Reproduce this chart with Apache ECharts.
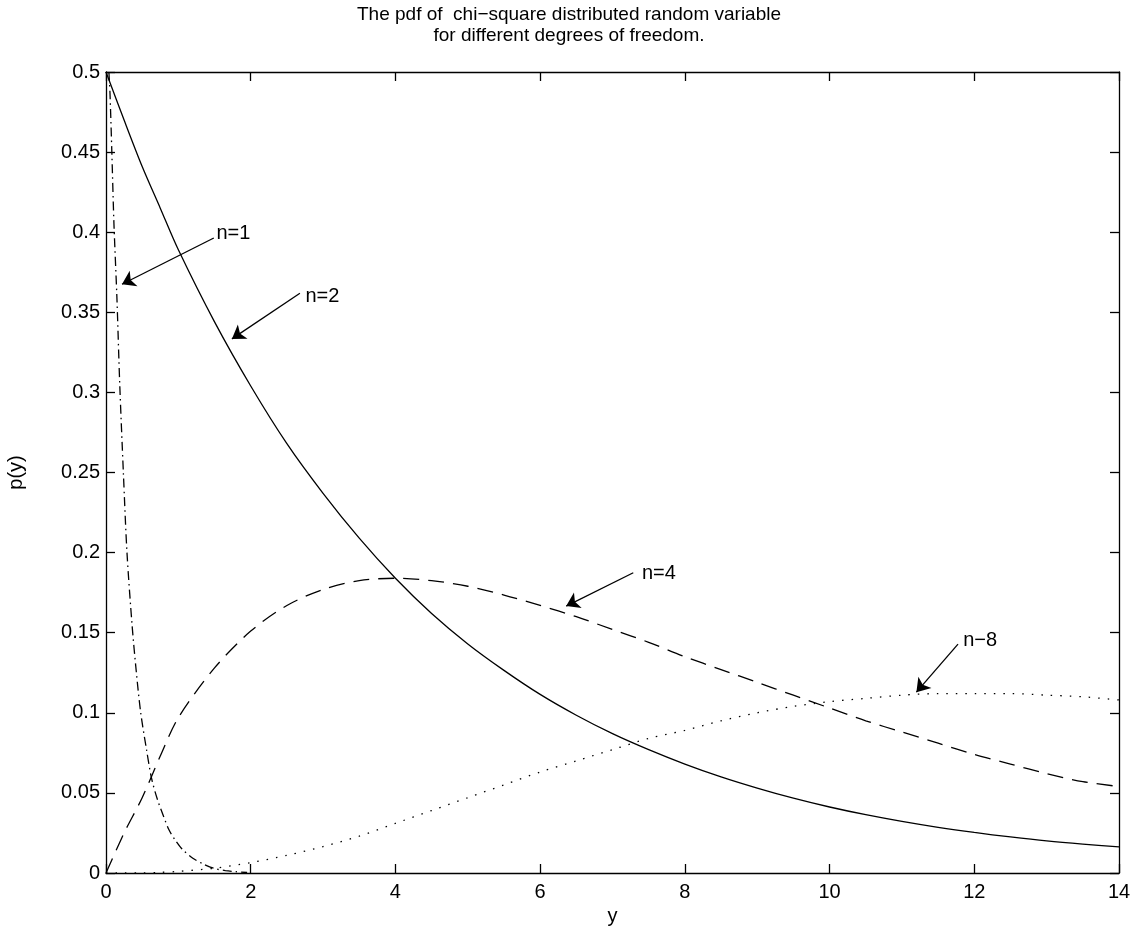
<!DOCTYPE html>
<html>
<head>
<meta charset="utf-8">
<script src="https://cdn.jsdelivr.net/npm/echarts@6/dist/echarts.min.js"></script>
<style>
  html, body { margin: 0; padding: 0; background: #fff; }
  #chart { width: 1138px; height: 936px; }
</style>
</head>
<body>
<div id="chart"></div>
<script>
// values (p(y) against y)
const xN1 = [0.04, 0.055, 0.08, 0.11, 0.15, 0.19, 0.24, 0.29, 0.36, 0.42, 0.48, 0.56, 0.63, 0.71,
  0.79, 0.87, 0.95, 1.05, 1.2, 1.35, 1.5, 1.65, 1.8, 1.95];
const yN1 = [0.5, 0.487, 0.451, 0.405, 0.36, 0.305, 0.25, 0.2, 0.155, 0.125, 0.1, 0.077, 0.059, 0.046,
  0.036, 0.027, 0.021, 0.015, 0.0092, 0.0055, 0.0028, 0.0015, 0.0008, 0.0003];

const xGrid = [0, 0.25, 0.5, 0.75, 1, 1.5, 2, 2.5, 3, 3.5, 4, 4.5, 5, 5.5, 6, 6.5, 7, 7.5, 8, 8.5, 9,
  9.5, 10, 10.5, 11, 11.5, 12, 12.5, 13, 13.5, 14];
const yN2 = [0.5, 0.47, 0.441, 0.415, 0.389, 0.344, 0.304, 0.268, 0.237, 0.209, 0.184, 0.162, 0.143,
  0.1265, 0.1115, 0.0985, 0.087, 0.077, 0.068, 0.06, 0.053, 0.0467, 0.0412, 0.0364, 0.0322, 0.0285,
  0.0253, 0.0225, 0.02, 0.018, 0.0163];
const yN4 = [0, 0.025, 0.047, 0.073, 0.097, 0.128, 0.151, 0.167, 0.177, 0.1825, 0.184, 0.1825, 0.179,
  0.1735, 0.167, 0.16, 0.152, 0.144, 0.135, 0.127, 0.119, 0.111, 0.103, 0.095, 0.088, 0.081, 0.074,
  0.068, 0.062, 0.057, 0.054];
const yN8 = [0, 0, 0.0001, 0.0004, 0.001, 0.003, 0.0065, 0.011, 0.0165, 0.023, 0.031, 0.039, 0.047,
  0.055, 0.063, 0.07, 0.077, 0.084, 0.089, 0.095, 0.1, 0.104, 0.107, 0.109, 0.111, 0.112, 0.112,
  0.112, 0.111, 0.11, 0.108];

const xTicks = { min: 0, max: 14, interval: 2 };
const yTicks = { min: 0, max: 0.5, interval: 0.05 };

// annotation arrows: [label, text pos, arrow start, arrow tip] in data units
const notes = [
  ["n=1", [1.52, 0.399], [1.49, 0.3964], [0.221, 0.3675]],
  ["n=2", [2.75, 0.3596], [2.68, 0.3619], [1.74, 0.3334]],
  ["n=4", [7.40, 0.187], [7.287, 0.1874], [6.36, 0.1666]],
  ["n\u22128", [11.84, 0.1454], [11.775, 0.1429], [11.2, 0.1129]],
];

const FONT = "'Liberation Sans', Arial, sans-serif";
const ink = "#000";

function zip(xs, ys) {
  return xs.map((x, i) => [x, ys[i]]);
}

function annotate(note) {
  const [text, at, from, to] = note;
  return {
    markLine: {
      silent: true,
      animation: false,
      symbol: ["none", "arrow"],
      symbolSize: 13,
      label: { show: false },
      lineStyle: { color: ink, width: 1.3, type: "solid" },
      data: [[{ coord: from }, { coord: to }]],
    },
    markPoint: {
      silent: true,
      animation: false,
      data: [{
        coord: at,
        symbol: "circle",
        symbolSize: 1,
        itemStyle: { color: "rgba(0,0,0,0)" },
        label: {
          show: true, position: "right", distance: 0, formatter: text,
          color: ink, fontSize: 20, fontFamily: FONT,
        },
      }],
    },
  };
}

function curve(name, data, dash, note) {
  return Object.assign({
    name: name,
    type: "line",
    data: data,
    symbol: "none",
    smooth: 0.3,
    lineStyle: { color: ink, width: 1.3, type: dash },
  }, annotate(note));
}

function axisCommon(ticks, showLabels) {
  return Object.assign({
    type: "value",
    axisLine: { show: true, onZero: false, lineStyle: { color: ink, width: 1.3 } },
    axisTick: { show: true, inside: true, length: 9, lineStyle: { color: ink, width: 1.3 } },
    axisLabel: { show: showLabels, color: ink, fontSize: 20, fontFamily: FONT },
    splitLine: { show: false },
  }, ticks);
}

const chart = echarts.init(document.getElementById("chart"));
chart.setOption({
  animation: false,
  backgroundColor: "#fff",
  title: {
    text: "The pdf of  chi\u2212square distributed random variable\nfor different degrees of freedom.",
    left: "center",
    top: -1,
    textStyle: { color: ink, fontSize: 19, fontWeight: "normal", fontFamily: FONT, lineHeight: 21 },
  },
  grid: { left: 106, right: 19, top: 72, bottom: 63, outerBoundsMode: "none" },
  xAxis: [
    Object.assign(axisCommon(xTicks, true), {
      position: "bottom",
      name: "y", nameLocation: "middle", nameGap: 32,
      nameTextStyle: { color: ink, fontSize: 20, fontFamily: FONT },
      axisLabel: { show: true, color: ink, fontSize: 20, fontFamily: FONT, margin: 9 },
    }),
    Object.assign(axisCommon(xTicks, false), { position: "top" }),
  ],
  yAxis: [
    Object.assign(axisCommon(yTicks, true), {
      position: "left",
      name: "p(y)", nameLocation: "middle", nameGap: 80, nameRotate: 90,
      nameTextStyle: { color: ink, fontSize: 20, fontFamily: FONT },
      axisLabel: { show: true, color: ink, fontSize: 20, fontFamily: FONT, margin: 6 },
    }),
    Object.assign(axisCommon(yTicks, false), { position: "right" }),
  ],
  series: [
    curve("n=1", zip(xN1, yN1), [9, 4, 1.5, 4], notes[0]),
    curve("n=2", zip(xGrid, yN2), "solid", notes[1]),
    curve("n=4", zip(xGrid, yN4), [16, 9], notes[2]),
    curve("n=8", zip(xGrid, yN8), [1.5, 8], notes[3]),
  ],
});
window.addEventListener("resize", () => chart.resize());
</script>
</body>
</html>
